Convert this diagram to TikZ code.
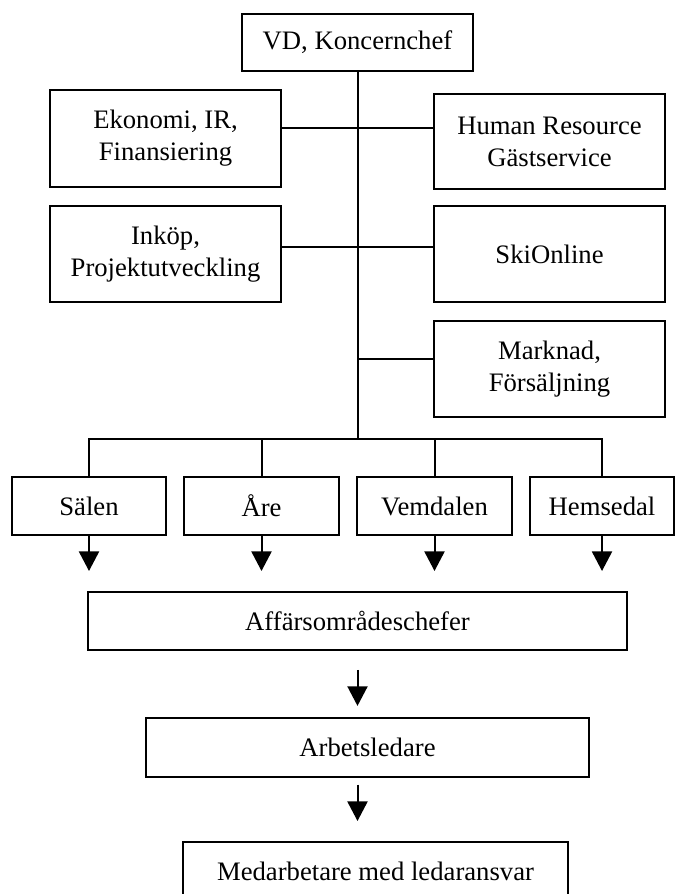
\documentclass[tikz,border=0pt]{standalone}
\usepackage{fontspec}
\setmainfont{Liberation Serif}
\usetikzlibrary{positioning}
\usetikzlibrary{arrows.meta}

\begin{document}
\begin{tikzpicture}[x=0.45pt, y=-0.45pt, line width=0.9pt,
  unit/.style={draw, line width=0.9pt, align=center, inner sep=0pt, font=\fontsize{12}{14.4}\selectfont},
  boxsize/.style 2 args={minimum width=#1*0.45pt, minimum height=#2*0.45pt},
  down/.style={-{Triangle[length=8.8pt, width=9pt]}, line width=0.9pt}]
  \useasboundingbox (0,0) rectangle (675,894);
  \clip (0,0) rectangle (675,894);

  % top management
  \node[unit, boxsize={231}{57}] (vd) at (357.5,42.5) {VD, Koncernchef};
  \node[unit, boxsize={231}{97}] (ek) at (165.5,138.5) {Ekonomi, IR,\\Finansiering};
  \node[unit, boxsize={231}{95}] (hr) at (549.5,141.5) {Human Resource\\Gästservice};
  \node[unit, boxsize={231}{96}] (ink) at (165.5,254) {Inköp,\\Projektutveckling};
  \node[unit, boxsize={231}{96}] (ski) at (549.5,254) {SkiOnline};
  \node[unit, boxsize={231}{96}] (mk) at (549.5,369) {Marknad,\\Försäljning};

  % destinations
  \node[unit, boxsize={154}{58}] (sal) at (89,506) {Sälen};
  \node[unit, boxsize={155}{58}] (are) at (261.5,506) {Åre};
  \node[unit, boxsize={155}{58}] (vem) at (434.5,506) {Vemdalen};
  \node[unit, boxsize={144}{58}] (hem) at (602,506) {Hemsedal};

  % line organisation
  \node[unit, boxsize={539}{58}] (aff) at (357.5,621) {Affärsområdeschefer};
  \node[unit, boxsize={443}{59}] (arb) at (367.5,747.5) {Arbetsledare};
  \node[unit, boxsize={385}{58}] (med) at (375.5,871) {Medarbetare med ledaransvar};

  \coordinate (bus) at (357.5,439);
  \coordinate (ekj) at ([yshift=4.5pt]ek.east);
  \coordinate (inkj) at ([yshift=3pt]ink.east);
  \coordinate (mkj) at ([yshift=4.5pt]mk.west);

  \draw (vd.south) -- (bus);
  \draw (ekj) -- (ekj -| hr.west);
  \draw (inkj) -- (inkj -| ski.west);
  \draw (vd.south |- mkj) -- (mkj);
  \draw (sal.north) |- (bus) -| (hem.north);
  \draw (are.north) -- (are.north |- bus);
  \draw (vem.north) -- (vem.north |- bus);

  \foreach \r in {sal,are,vem,hem}
    \draw[down, shorten >=9pt] (\r.south) -- (\r.south |- aff.north);
  \draw[down, shorten <=8.5pt, shorten >=5pt] (aff.south) -- (aff.south |- arb.north);
  \draw[down, shorten <=3pt, shorten >=9pt] (aff.south |- arb.south) -- (aff.south |- med.north);
\end{tikzpicture}
\end{document}
